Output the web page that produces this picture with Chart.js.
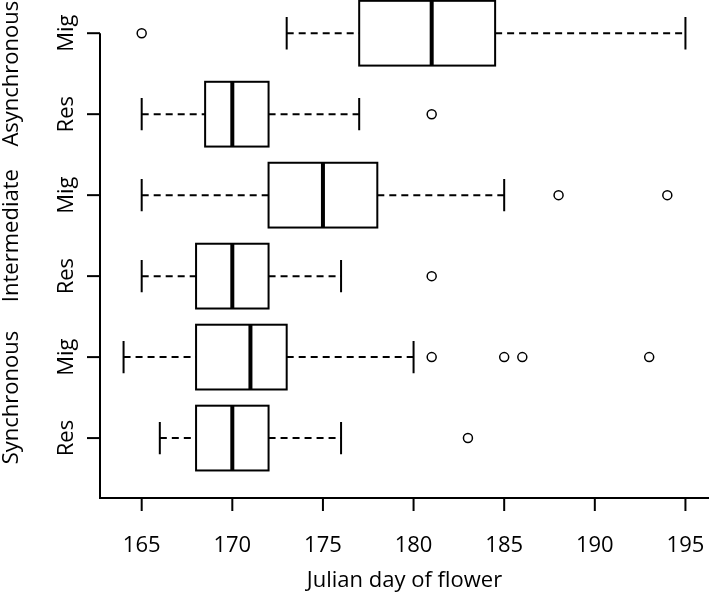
<!DOCTYPE html>
<html>
<head>
<meta charset="utf-8">
<script src="https://cdn.jsdelivr.net/npm/chart.js@4.4.0/dist/chart.umd.min.js"></script>
<style>
  html, body { margin: 0; padding: 0; background: #fff; }
  #wrap { width: 709px; height: 592px; }
</style>
</head>
<body>
<div id="wrap"><canvas id="chart" width="709" height="592"></canvas></div>
<script>
// groups, bottom to top
const groupNames = ['Synchronous', 'Intermediate', 'Asynchronous'];
const typeNames = ['Res', 'Mig'];
const boxLabels = ['Res', 'Mig', 'Res', 'Mig', 'Res', 'Mig'];

// box statistics (Julian day), same order as boxLabels
const whiskerLow = [166, 164, 165, 165, 165, 173];
const q1 = [168, 168, 168, 172, 168.5, 177];
const median = [170, 171, 170, 175, 170, 181];
const q3 = [172, 173, 172, 178, 172, 184.5];
const whiskerHigh = [176, 180, 176, 185, 177, 195];
const outliers = [[183], [181, 185, 186, 193], [181], [188, 194], [181], [165]];

const xTicks = [165, 170, 175, 180, 185, 190, 195];
const xTitle = 'Julian day of flower';

const FONT = '"Open Sans", sans-serif';

const outlierPoints = [];
outliers.forEach((list, i) => {
    list.forEach(v => outlierPoints.push({ x: v, y: i + 1 }));
});

const boxPlugin = {
    id: 'boxes',
    beforeDatasetsDraw(chart) {
        const ctx = chart.ctx;
        const xs = chart.scales.x;
        const ys = chart.scales.y;
        const area = chart.chartArea;
        const half = 0.4, staple = 0.2;

        ctx.save();
        ctx.strokeStyle = '#000';
        ctx.lineCap = 'butt';

        for (let i = 0; i < median.length; i++) {
            const pos = i + 1;
            const yc = ys.getPixelForValue(pos);
            const yt = ys.getPixelForValue(pos + half);
            const yb = ys.getPixelForValue(pos - half);
            const st = ys.getPixelForValue(pos + staple);
            const sb = ys.getPixelForValue(pos - staple);
            const xlo = xs.getPixelForValue(whiskerLow[i]);
            const x1 = xs.getPixelForValue(q1[i]);
            const xm = xs.getPixelForValue(median[i]);
            const x3 = xs.getPixelForValue(q3[i]);
            const xhi = xs.getPixelForValue(whiskerHigh[i]);

            // whiskers
            ctx.lineWidth = 2;
            ctx.setLineDash([7, 5]);
            ctx.beginPath();
            ctx.moveTo(xlo, yc); ctx.lineTo(x1, yc);
            ctx.moveTo(x3, yc); ctx.lineTo(xhi, yc);
            ctx.stroke();
            ctx.setLineDash([]);

            // staples
            ctx.beginPath();
            ctx.moveTo(xlo, st); ctx.lineTo(xlo, sb);
            ctx.moveTo(xhi, st); ctx.lineTo(xhi, sb);
            ctx.stroke();

            // box
            ctx.fillStyle = '#fff';
            ctx.fillRect(x1, yt, x3 - x1, yb - yt);
            ctx.strokeRect(x1, yt, x3 - x1, yb - yt);

            // median
            ctx.lineWidth = 4;
            ctx.beginPath();
            ctx.moveTo(xm, yt); ctx.lineTo(xm, yb);
            ctx.stroke();
        }

        // axes lines
        ctx.lineWidth = 2;
        ctx.beginPath();
        ctx.moveTo(area.left, ys.getPixelForValue(6));
        ctx.lineTo(area.left, area.bottom);
        ctx.lineTo(area.right, area.bottom);
        ctx.stroke();

        // x ticks and labels
        ctx.fillStyle = '#000';
        ctx.font = '22px ' + FONT;
        ctx.textAlign = 'center';
        ctx.textBaseline = 'alphabetic';
        xTicks.forEach(t => {
            const px = xs.getPixelForValue(t);
            ctx.beginPath();
            ctx.moveTo(px, area.bottom);
            ctx.lineTo(px, area.bottom + 13);
            ctx.stroke();
            ctx.fillText(String(t), px, area.bottom + 54);
        });
        ctx.fillText(xTitle, (area.left + area.right) / 2, area.bottom + 89);

        // y ticks and labels
        boxLabels.forEach((lab, i) => {
            const py = ys.getPixelForValue(i + 1);
            ctx.beginPath();
            ctx.moveTo(area.left - 13, py);
            ctx.lineTo(area.left, py);
            ctx.stroke();
            ctx.save();
            ctx.translate(area.left - 27, py);
            ctx.rotate(-Math.PI / 2);
            ctx.fillText(lab, 0, 0);
            ctx.restore();
        });
        groupNames.forEach((g, k) => {
            const py = ys.getPixelForValue(2 * k + 1.5);
            ctx.save();
            ctx.translate(18, py);
            ctx.rotate(-Math.PI / 2);
            ctx.fillText(g, 0, 0);
            ctx.restore();
        });

        ctx.restore();
    }
};

new Chart(document.getElementById('chart').getContext('2d'), {
    type: 'scatter',
    data: {
        datasets: [{
            label: 'outliers',
            data: outlierPoints,
            pointStyle: 'circle',
            pointRadius: 4.5,
            pointHoverRadius: 4.5,
            borderWidth: 1.5,
            borderColor: '#000',
            backgroundColor: 'rgba(255,255,255,0)',
            clip: false
        }]
    },
    options: {
        responsive: false,
        devicePixelRatio: 1,
        animation: false,
        layout: { autoPadding: false, padding: { left: 100, right: 0, top: 0, bottom: 94 } },
        scales: {
            x: { type: 'linear', display: false, min: 162.7, max: 196.3 },
            y: { type: 'linear', display: false, min: 0.26, max: 6.41 }
        },
        plugins: {
            legend: { display: false },
            tooltip: { enabled: false }
        }
    },
    plugins: [boxPlugin]
});
</script>
</body>
</html>
